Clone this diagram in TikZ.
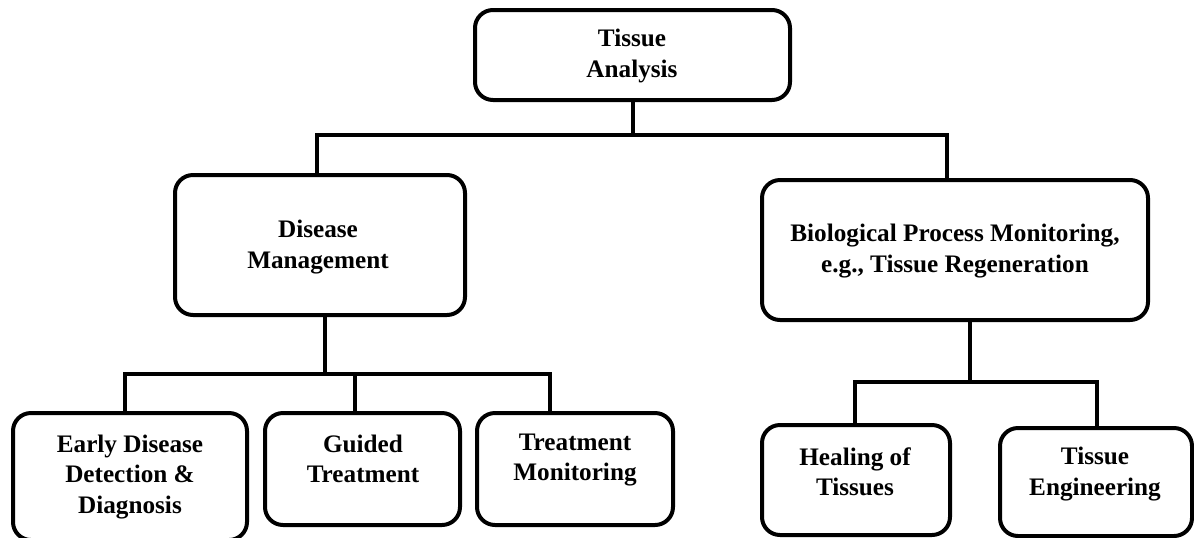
\documentclass[tikz,border=0pt]{standalone}
\usepackage{fontspec}
\setmainfont{Liberation Serif}
\usetikzlibrary{fit}
\begin{document}
\begin{tikzpicture}[x=0.5pt,y=-0.5pt,
  box/.style={draw, line width=2pt, rounded corners=9pt, inner sep=0pt},
  lbl/.style={align=center, inner sep=0pt,
    font=\bfseries\fontsize{12.6}{15.2}\selectfont},
  link/.style={line width=2pt, line join=miter}]
\useasboundingbox (0,0) rectangle (1194,537);

% boxes (corner points in pixel units)
\node[box, fit={(475,10)(790,100)}]   (ta)  {};
\node[box, fit={(175,175)(465,315)}]  (dm)  {};
\node[box, fit={(762,180)(1148,320)}] (bio) {};
\node[box, fit={(13,413)(247,540)}]   (edd) {};
\node[box, fit={(265,413)(460,525)}]  (gt)  {};
\node[box, fit={(477,413)(673,525)}]  (tm)  {};
\node[box, fit={(762,425)(950,535)}]  (hot) {};
\node[box, fit={(1000,428)(1192,536)}] (te) {};

% labels
\node[lbl] (ta-t)  at (632,56)  {Tissue\\Analysis};
\node[lbl] (dm-t)  at (318,247) {Disease\\Management};
\node[lbl] (bio-t) at (955,251) {Biological Process Monitoring,\\e.g., Tissue Regeneration};
\node[lbl] (edd-t) at (130,477) {Early Disease\\Detection \&\\Diagnosis};
\node[lbl] (gt-t)  at (363,459) {Guided\\Treatment};
\node[lbl] (tm-t)  at (575,460) {Treatment\\Monitoring};
\node[lbl] (hot-t) at (855,472) {Healing of\\Tissues};
\node[lbl] (te-t)  at (1095,474) {Tissue\\Engineering};

% junction points of the tree
\coordinate (tL) at (317,135);
\coordinate (tR) at (947,135);
\coordinate (dmDown) at (325,374);
\coordinate (bL) at (125,374);
\coordinate (bG) at (355,374);
\coordinate (bR) at (550,374);
\coordinate (bioDown) at (970,382);
\coordinate (rL) at (855,382);
\coordinate (rR) at (1097,382);

% top level
\draw[link] (ta.south) -- (ta.south |- tL);
\draw[link] (tL |- dm.north) -- (tL) -- (tR) -- (tR |- bio.north);

% disease management branch
\draw[link] (dmDown |- dm.south) -- (dmDown);
\draw[link] (bL |- edd.north) -- (bL) -- (bR) -- (bR |- tm.north);
\draw[link] (bG) -- (bG |- gt.north);

% biological process branch
\draw[link] (bioDown |- bio.south) -- (bioDown);
\draw[link] (rL |- hot.north) -- (rL) -- (rR) -- (rR |- te.north);
\end{tikzpicture}
\end{document}
